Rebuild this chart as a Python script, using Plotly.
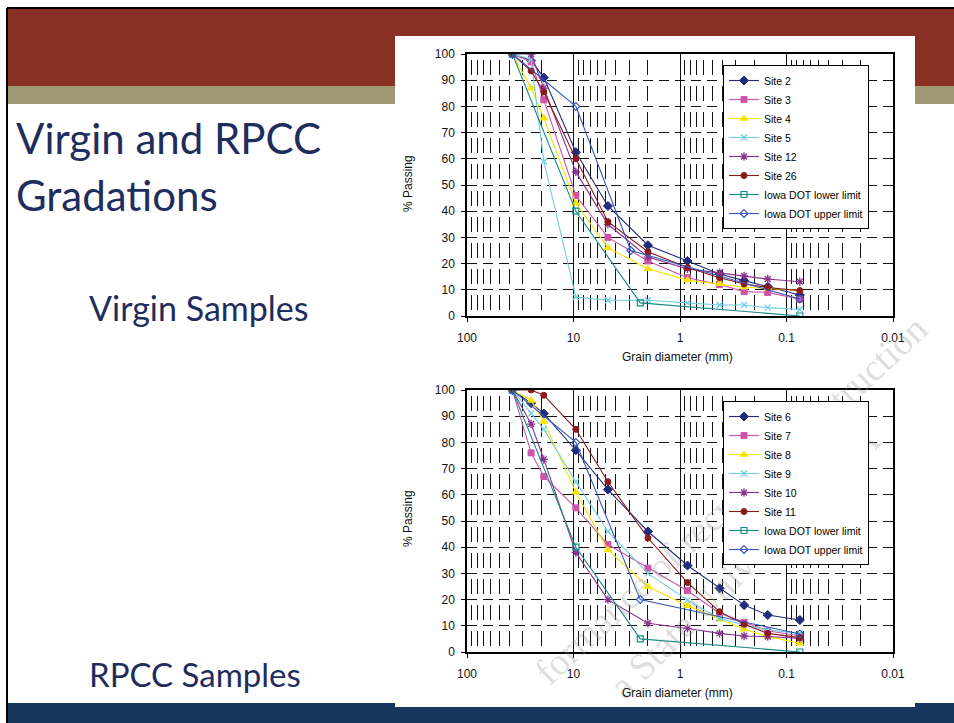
import math
import plotly.graph_objects as go

# ---------------- data ----------------
sieve_mm = [37.5, 25, 19, 9.5, 4.75, 2.0, 0.85, 0.425, 0.25, 0.15, 0.075]

# Virgin samples (top chart)
site2 = [100, 97.5, 91, 62.5, 42, 27, 21, 16, 13.5, 11.2, 8]
site3 = [100, 97, 82.5, 46, 30, 21, 14.6, 12, 9.3, 9, 6.4]
site4 = [100, 87, 75.5, 43, 26, 18, 13.7, 12.3, 11, 10.5, 9.8]
site5 = [100, 98, 59, 7.2, 6, 6, 5, 4.2, 4.2, 3.2, 2.5]
site12 = [100, 100, 87, 55, 35, 22.5, 18, 16.5, 15.3, 14.1, 13.1]
site26 = [100, 93.5, 85.5, 60, 36, 24.5, 18.5, 14.6, 12.2, 10.9, 9.7]

# RPCC samples (bottom chart)
site6 = [100, 95, 91, 77, 62, 46, 33, 24.3, 17.9, 14.1, 12.2]
site7 = [100, 76, 67, 55, 41, 32, 23.4, 14.8, 11.3, 8.1, 6.1]
site8 = [100, 96, 88, 61, 39, 25, 17.7, 12.5, 8.7, 5.9, 3.3]
site9 = [100, 91, 85, 65, 46, 30, 19.8, 12.8, 10.3, 8.4, 7.1]
site10 = [100, 87, 73.5, 38, 20, 11, 9, 7.1, 6.1, 5.9, 5.2]
site11 = [100, 100, 98, 85, 65, 43.5, 26.5, 15.4, 10.6, 7.1, 5.5]

# Iowa DOT limits
lower_x = [37.5, 9.5, 2.36, 0.075]
lower_y = [100, 40, 5, 0]
upper_x_top = [37.5, 9.5, 2.9, 0.075]
upper_y_top = [100, 80, 25, 6.5]
upper_x_bot = [37.5, 9.5, 2.36, 0.075]
upper_y_bot = [100, 80, 20, 6.9]

x_ticks = [100, 10, 1, 0.1, 0.01]
x_ticktext = ["100", "10", "1", "0.1", "0.01"]
y_ticks = [0, 10, 20, 30, 40, 50, 60, 70, 80, 90, 100]
minor_vals = [m * d for d in (10, 1, 0.1, 0.01) for m in range(2, 10)]

# ---------------- helpers ----------------
W, H = 954, 723
def px(x):
    return x / W
def py(y):
    return 1 - y / H

C_NAVY = "#222C7C"
C_MAG = "#CC55AA"
C_YEL = "#F5E400"
C_CYAN = "#6FD0DE"
C_PURP = "#8A3490"
C_RED = "#8B1A1A"
C_TEAL = "#178A8A"
C_BLUE = "#3555BB"

fig = go.Figure()

def add(x, y, name, color, symbol, xa, ya, legend, size=7, lw=1):
    fig.add_trace(go.Scatter(
        x=x, y=y, mode="lines+markers", name=name,
        xaxis=xa, yaxis=ya, legend=legend,
        line=dict(color=color, width=1.1),
        marker=dict(symbol=symbol, size=size, color=color,
                    line=dict(color=color, width=lw)),
    ))

add(sieve_mm, site2, "Site 2", C_NAVY, "diamond", "x", "y", "legend", 7)
add(sieve_mm, site3, "Site 3", C_MAG, "square", "x", "y", "legend", 6)
add(sieve_mm, site4, "Site 4", C_YEL, "triangle-up", "x", "y", "legend", 7)
add(sieve_mm, site5, "Site 5", C_CYAN, "x-thin-open", "x", "y", "legend", 6, 1.3)
add(sieve_mm, site12, "Site 12", C_PURP, "asterisk-open", "x", "y", "legend", 7, 1.3)
add(sieve_mm, site26, "Site 26", C_RED, "circle", "x", "y", "legend", 6)
add(lower_x, lower_y, "Iowa DOT lower limit", C_TEAL, "square-open", "x", "y", "legend", 6, 1.2)
add(upper_x_top, upper_y_top, "Iowa DOT upper limit", C_BLUE, "diamond-open", "x", "y", "legend", 6, 1.2)

add(sieve_mm, site6, "Site 6", C_NAVY, "diamond", "x2", "y2", "legend2", 7)
add(sieve_mm, site7, "Site 7", C_MAG, "square", "x2", "y2", "legend2", 6)
add(sieve_mm, site8, "Site 8", C_YEL, "triangle-up", "x2", "y2", "legend2", 7)
add(sieve_mm, site9, "Site 9", C_CYAN, "x-thin-open", "x2", "y2", "legend2", 6, 1.3)
add(sieve_mm, site10, "Site 10", C_PURP, "asterisk-open", "x2", "y2", "legend2", 7, 1.3)
add(sieve_mm, site11, "Site 11", C_RED, "circle", "x2", "y2", "legend2", 6)
add(lower_x, lower_y, "Iowa DOT lower limit", C_TEAL, "square-open", "x2", "y2", "legend2", 6, 1.2)
add(upper_x_bot, upper_y_bot, "Iowa DOT upper limit", C_BLUE, "diamond-open", "x2", "y2", "legend2", 6, 1.2)

tick_font = dict(family="Liberation Sans, Arial", size=12, color="#111")
GRIDC = "#111"

def xaxis_cfg(domain_y_anchor):
    return dict(
        type="log", range=[2, -2], domain=[px(467), px(893)], anchor=domain_y_anchor,
        tickvals=x_ticks, ticktext=x_ticktext, tickfont=tick_font,
        showgrid=True, gridcolor=GRIDC, gridwidth=1.3,
        showline=True, linecolor="black", linewidth=1.5, mirror=True,
        ticks="outside", ticklen=4, tickcolor="black", ticklabelstandoff=6,
        zeroline=False, automargin=False,
        minor=dict(tickvals=minor_vals, showgrid=True, gridcolor=GRIDC,
                   gridwidth=1.2, griddash="0px,5.6px,15px,5.6px", ticks=""),
    )

def yaxis_cfg(top, bottom, anchor):
    return dict(
        range=[0, 100], domain=[py(bottom), py(top)], anchor=anchor,
        tickvals=y_ticks, tickfont=tick_font,
        showgrid=True, gridcolor=GRIDC, gridwidth=1.3, griddash="10px,6px",
        showline=True, linecolor="black", linewidth=1.5, mirror=True,
        ticks="outside", ticklen=4, tickcolor="black", ticklabelstandoff=4,
        zeroline=False, automargin=False,
    )

legend_common = dict(
    xanchor="left", yanchor="top", bgcolor="white", bordercolor="black",
    borderwidth=1, font=dict(family="Liberation Sans, Arial", size=10.5, color="black"),
    itemwidth=30, tracegroupgap=0,
)

# watermark fragments visible on the slide (carried by invisible line shapes)
WM_FONT = dict(family="Liberation Serif", size=38, color="rgba(150,150,150,0.33)")
def wm_line(text, cx, cy, ang_deg=45, half=120):
    dx = half * math.cos(math.radians(ang_deg))
    dy = half * math.sin(math.radians(ang_deg))
    return dict(type="line", xref="paper", yref="paper",
                x0=px(cx - dx), y0=py(cy + dy), x1=px(cx + dx), y1=py(cy - dy),
                line=dict(color="rgba(0,0,0,0)", width=0), layer="above",
                label=dict(text=text, textangle=-ang_deg, textposition="middle",
                           yanchor="middle", font=WM_FONT))

shapes = [
    # red header band
    dict(type="rect", xref="paper", yref="paper", x0=px(8), x1=1, y0=py(86), y1=py(9),
         fillcolor="#892F24", line=dict(width=0), layer="below"),
    # olive band
    dict(type="rect", xref="paper", yref="paper", x0=px(8), x1=1, y0=py(104), y1=py(86),
         fillcolor="#9F9A74", line=dict(width=0), layer="below"),
    # navy footer band
    dict(type="rect", xref="paper", yref="paper", x0=px(8), x1=1, y0=0, y1=py(703),
         fillcolor="#17375E", line=dict(width=0), layer="below"),
    # white picture area holding the charts
    dict(type="rect", xref="paper", yref="paper", x0=px(395), x1=px(915), y0=py(707), y1=py(36),
         fillcolor="white", line=dict(width=0), layer="below"),
    # slide border (top and left)
    dict(type="line", xref="paper", yref="paper", x0=px(7), x1=1, y0=py(8), y1=py(8),
         line=dict(color="black", width=2), layer="below"),
    dict(type="line", xref="paper", yref="paper", x0=px(7), x1=px(7), y0=0, y1=py(8),
         line=dict(color="black", width=2), layer="below"),
    wm_line("formance of recycled construction", 728, 497, 43),
    wm_line("a State University, USA", 742, 560, 45),
]

TITLE_C = "#1F2D5E"
ann = [
    dict(text="Virgin and RPCC", x=px(14), y=py(138), xanchor="left", yanchor="middle",
         font=dict(family="Lato", size=42, color=TITLE_C)),
    dict(text="Gradations", x=px(14), y=py(195), xanchor="left", yanchor="middle",
         font=dict(family="Lato", size=42, color=TITLE_C)),
    dict(text="Virgin Samples", x=px(87), y=py(307), xanchor="left", yanchor="middle",
         font=dict(family="Lato", size=34, color=TITLE_C)),
    dict(text="RPCC Samples", x=px(87), y=py(674), xanchor="left", yanchor="middle",
         font=dict(family="Lato", size=33, color=TITLE_C)),
    dict(text="% Passing", x=px(408), y=py(184), textangle=-90, xanchor="center", yanchor="middle",
         font=dict(family="Liberation Sans, Arial", size=12, color="#111")),
    dict(text="% Passing", x=px(408), y=py(519), textangle=-90, xanchor="center", yanchor="middle",
         font=dict(family="Liberation Sans, Arial", size=12, color="#111")),
    dict(text="Grain diameter (mm)", x=px(677), y=py(357), xanchor="center", yanchor="middle",
         font=dict(family="Liberation Sans, Arial", size=12, color="#111")),
    dict(text="Grain diameter (mm)", x=px(677), y=py(693), xanchor="center", yanchor="middle",
         font=dict(family="Liberation Sans, Arial", size=12, color="#111")),
]
for a in ann:
    a.update(xref="paper", yref="paper", showarrow=False)

fig.update_layout(
    width=W, height=H, margin=dict(l=0, r=0, t=0, b=0, autoexpand=False),
    paper_bgcolor="white", plot_bgcolor="white",
    xaxis=xaxis_cfg("y"), yaxis=yaxis_cfg(54, 316, "x"),
    xaxis2=xaxis_cfg("y2"), yaxis2=yaxis_cfg(390, 652, "x2"),
    legend=dict(x=px(723), y=py(65), **legend_common),
    legend2=dict(x=px(723), y=py(401), **legend_common),
    shapes=shapes, annotations=ann,
)

fig.write_html("out.html")
